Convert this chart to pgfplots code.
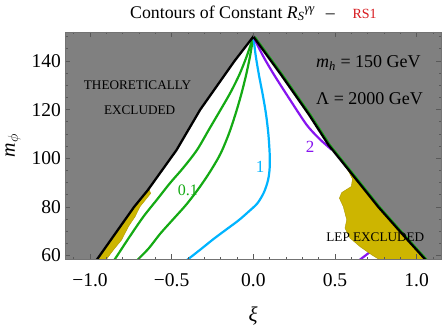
\documentclass[border=0pt]{standalone}
\usepackage{fontspec}
\setmainfont{Liberation Serif}
\usepackage{pgfplots}
\pgfplotsset{compat=1.18}
\definecolor{exclgray}{RGB}{128,128,128}
\definecolor{lepyellow}{RGB}{205,181,0}
\definecolor{cgreen}{RGB}{20,170,20}
\definecolor{cblue}{RGB}{0,180,255}
\definecolor{cpurple}{RGB}{135,20,240}
\definecolor{rsred}{RGB}{215,25,30}

\begin{document}
\begin{tikzpicture}
\useasboundingbox (-65pt,-68pt) rectangle (377pt,259pt);
\begin{axis}[
  at={(0pt,0pt)}, anchor=south west,
  scale only axis, width=376pt, height=227pt,
  xmin=-1.153, xmax=1.149, ymin=58.6, ymax=151.9,
  axis background/.style={fill=exclgray},
  axis on top,
  xtick={-1,-0.5,0,0.5,1},
  xticklabels={−1.0,−0.5,0.0,0.5,1.0},
  ytick={60,80,100,120,140},
  yticklabels={60,80,100,120,140},
  minor xtick={-1.1,-0.9,-0.8,-0.7,-0.6,-0.4,-0.3,-0.2,-0.1,0.1,0.2,0.3,0.4,0.6,0.7,0.8,0.9,1.1},
  minor ytick={65,70,75,85,90,95,105,110,115,125,130,135,145,150},
  tick pos=both, tick align=inside,
  major tick length=5pt, minor tick length=2.5pt,
  every tick/.style={black!65, line width=0.6pt},
  axis line style={black!55, line width=0.6pt},
  tick label style={font=\fontsize{19.5}{20}\selectfont},
  xticklabel style={inner sep=0pt, yshift=-14pt},
  yticklabel style={inner sep=0pt, xshift=-4pt},
  xlabel={\textit{ξ}}, ylabel={\textit{m}\textsubscript{$\phi$}},
  x label style={at={(axis description cs:0.5,-0.252)}, anchor=center, font=\fontsize{21}{22}\selectfont},
  y label style={at={(axis description cs:-0.138,0.5)}, anchor=center, font=\fontsize{20}{22}\selectfont},
]
% allowed region
\addplot[fill=white, draw=none] coordinates {(-0.97,57) (-0.955,58.6) (-0.73,80) (-0.645,87) (-0.47,103.4) (-0.325,120) (-0.115,140) (0,150) (0.17,134.3) (0.34,118) (0.46,105.5) (0.61,93) (0.765,80) (0.91,69) (1.05,58.6) (1.07,57)} -- cycle;

% contours
\addplot[cgreen, line width=2.2pt, smooth] coordinates {(0,150) (-0.04,142) (-0.086,134.3) (-0.14,127) (-0.20,120) (-0.27,112) (-0.345,103.4) (-0.43,96) (-0.51,89.8) (-0.59,83) (-0.673,76) (-0.76,67.5) (-0.847,58.6) (-0.865,57)};
\addplot[cgreen, line width=2.2pt, smooth] coordinates {(0,150) (-0.02,142) (-0.045,134) (-0.075,126) (-0.11,118) (-0.15,110) (-0.20,102) (-0.26,95) (-0.33,88) (-0.41,81) (-0.49,75) (-0.57,69) (-0.64,63) (-0.704,58.6) (-0.725,57)};
\addplot[cblue, line width=2.2pt, smooth] coordinates {(0,150) (0.015,142) (0.035,134) (0.058,126) (0.078,118) (0.092,110) (0.100,102) (0.100,96) (0.090,91) (0.065,86) (0.025,81.5) (-0.03,78) (-0.09,74.5) (-0.16,71) (-0.24,67) (-0.32,62.7) (-0.398,58.6) (-0.43,57)};
\addplot[cpurple, line width=2.2pt, smooth] coordinates {(0,150) (0.06,142) (0.127,134.3) (0.23,123.5) (0.327,113.7) (0.40,108.3) (0.449,105.3) (0.48,103.5)};
\addplot[cpurple, line width=2.2pt] coordinates {(0.60,55.6) (0.705,61) (0.77,63.5)};

% LEP excluded
\addplot[fill=lepyellow, draw=lepyellow!85!black, line width=0.4pt] coordinates {(-0.64,87.3) (-0.73,80) (-0.955,58.6) (-0.97,57) (-0.90,57) (-0.898,58.6) (-0.857,62.3) (-0.806,66.5) (-0.765,71.9) (-0.724,76) (-0.694,80.1) (-0.628,85.6)} -- cycle;
\addplot[fill=lepyellow, draw=lepyellow!85!black, line width=0.4pt] coordinates {(0.46,105.5) (0.61,93) (0.765,80) (0.91,69) (1.05,58.6) (1.07,57) (0.78,57) (0.766,58.6) (0.725,60.3) (0.653,63.7) (0.592,67.2) (0.561,71.3) (0.572,74.7) (0.551,80.1) (0.527,83.6) (0.541,85.9) (0.600,88.4) (0.607,91.5) (0.58,95) (0.53,99.5) (0.475,104.5)} -- cycle;

% boundary of the theoretically allowed region
\addplot[cgreen, line width=1pt] coordinates {(0.012,150) (0.182,134.3) (0.352,118) (0.472,105.5) (0.622,93) (0.777,80) (0.922,69) (1.062,58.6) (1.082,57)};
\addplot[black, line width=2.3pt, line join=miter] coordinates {(-0.97,57) (-0.955,58.6) (-0.73,80) (-0.645,87) (-0.47,103.4) (-0.325,120) (-0.115,140) (0,150) (0.17,134.3) (0.34,118) (0.46,105.5) (0.61,93) (0.765,80) (0.91,69) (1.05,58.6) (1.07,57)};

% labels
\node[inner sep=0pt, font=\fontsize{13.2}{14}\selectfont] at (axis cs:-0.709,130.2) {THEORETICALLY};
\node[inner sep=0pt, font=\fontsize{13.2}{14}\selectfont] at (axis cs:-0.696,119.9) {EXCLUDED};
\node[inner sep=0pt, anchor=base west, font=\fontsize{18}{18}\selectfont] at (axis cs:0.384,137.4) {\textit{m}\textsubscript{\textit{h}} = 150 GeV};
\node[inner sep=0pt, anchor=base west, font=\fontsize{18}{18}\selectfont] at (axis cs:0.384,122.1) {Λ = 2000 GeV};
\node[inner sep=0pt, anchor=base, font=\fontsize{13.2}{14}\selectfont] at (axis cs:0.747,65.75) {LEP EXCLUDED};
\node[inner sep=0pt, text=cgreen, font=\fontsize{16}{16}\selectfont] at (axis cs:-0.40,87) {0.1};
\node[inner sep=0pt, text=cblue, font=\fontsize{17}{17}\selectfont] at (axis cs:0.041,96.6) {1};
\node[inner sep=0pt, text=cpurple, font=\fontsize{17}{17}\selectfont] at (axis cs:0.347,104.8) {2};
\end{axis}
\node[anchor=base west, inner sep=0pt, font=\fontsize{17.8}{18}\selectfont] at (65pt,240.7pt) {Contours of Constant \textit{R}\textsubscript{\textit{S}}\textsuperscript{\textit{γγ}}\hspace{0.6em}–\hspace{1em}\textcolor{rsred}{\fontsize{14}{14}\selectfont RS1}};
\end{tikzpicture}
\end{document}
